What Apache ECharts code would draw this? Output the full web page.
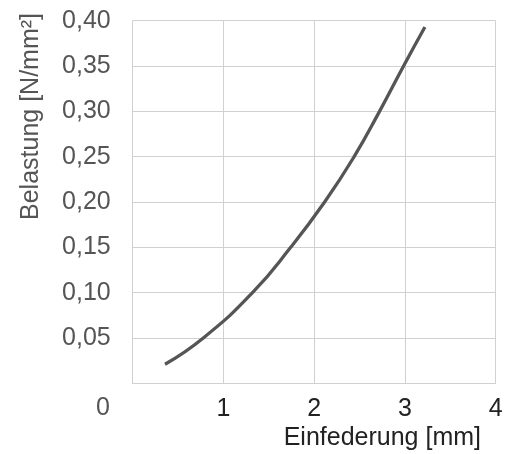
<!DOCTYPE html>
<html>
<head>
<meta charset="utf-8">
<script src="https://cdn.jsdelivr.net/npm/echarts@6/dist/echarts.min.js"></script>
<style>
html,body{margin:0;padding:0;background:#fff;}
#c{width:518px;height:454px;}
</style>
</head>
<body>
<div id="c"></div>
<script>
// Einfederung [mm]
const xValues = [0.356, 0.778, 1.32, 1.741, 2.115, 2.44, 2.72, 2.985, 3.22];
// Belastung [N/mm²]
const yValues = [0.021, 0.050, 0.100, 0.150, 0.200, 0.250, 0.300, 0.350, 0.393];
const xAxisName = 'Einfederung [mm]';
const yAxisName = 'Belastung [N/mm²]';
const originLabel = '0';

const chart = echarts.init(document.getElementById('c'));
const fontFamily = '"Liberation Sans", Arial, sans-serif';
const gridColor = '#d0d0d0';
const fs = 25;

chart.setOption({
  animation: false,
  backgroundColor: '#ffffff',
  grid: {left: 132.7, right: 22.3, top: 20.7, bottom: 70.7, containLabel: false},
  xAxis: {
    type: 'value', min: 0, max: 4, interval: 1,
    axisLine: {show: true, lineStyle: {color: gridColor, width: 1}},
    axisTick: {show: false},
    splitLine: {show: true, lineStyle: {color: gridColor, width: 1}},
    axisLabel: {
      color: '#222', fontSize: fs, fontFamily: fontFamily, margin: 13,
      formatter: v => v === 0 ? '' : String(v)
    }
  },
  yAxis: {
    type: 'value', min: 0, max: 0.40, interval: 0.05,
    axisLine: {show: true, lineStyle: {color: gridColor, width: 1}},
    axisTick: {show: false},
    splitLine: {show: true, lineStyle: {color: gridColor, width: 1}},
    axisLabel: {
      color: '#555', fontSize: fs, fontFamily: fontFamily, margin: 22,
      formatter: v => v === 0 ? '' : v.toFixed(2).replace('.', ',')
    }
  },
  series: [{
    type: 'line',
    data: xValues.map((x, i) => [x, yValues[i]]),
    smooth: 0.5,
    showSymbol: false,
    lineStyle: {color: '#555555', width: 3.3}
  }],
  graphic: [
    {
      type: 'text', x: 110, y: 408.5,
      style: {text: originLabel, fill: '#555', font: fs + 'px ' + fontFamily, textAlign: 'right', textVerticalAlign: 'middle'}
    },
    {
      type: 'text', x: 481, y: 438,
      style: {text: xAxisName, fill: '#222', font: fs + 'px ' + fontFamily, textAlign: 'right', textVerticalAlign: 'middle'}
    },
    {
      type: 'text', x: 31, y: 13, rotation: Math.PI / 2,
      style: {text: yAxisName, fill: '#555', font: fs + 'px ' + fontFamily, textAlign: 'right', textVerticalAlign: 'middle'}
    }
  ]
});
</script>
</body>
</html>
